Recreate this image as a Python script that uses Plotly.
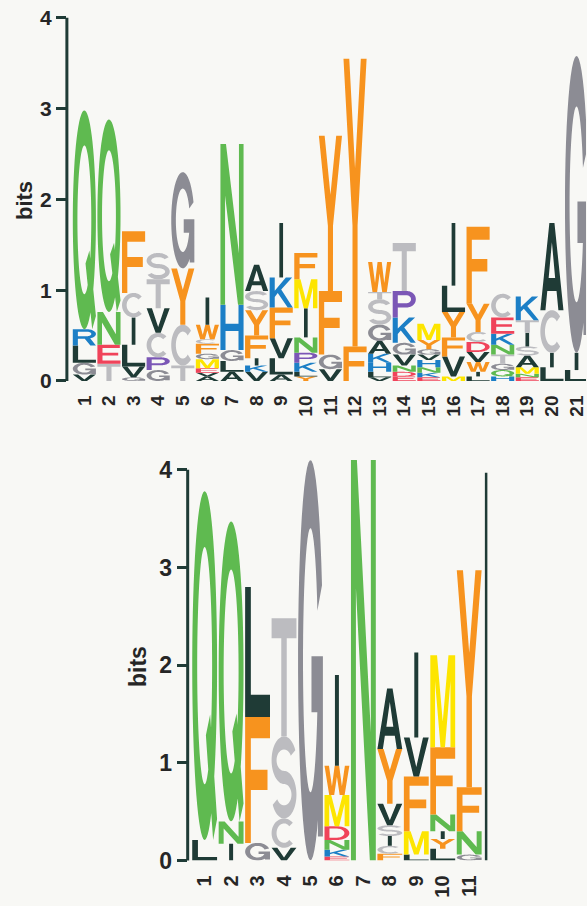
import numpy as np
import plotly.graph_objects as go

# ---------------- data ----------------
top_positions = list(range(1, 22))
top_letters = [
    "VGLRQ", "TENQ", "GVLICF", "GPCVTS", "TCYG", "AVEMGFCWI", "ALGHN",
    "VKIFYSA", "ALVFKI", "YLKPNIMF", "VGFY", "FY", "VLHKAGSTW", "EDNVGKPT",
    "EKNHVGYM", "MVFYLI", "LIWVDCYF", "HQGTNKEC", "ENMASITK", "LICA", "LIG",
]
top_heights = [
    [0.07, 0.13, 0.19, 0.18, 2.41],
    [0.19, 0.21, 0.36, 2.12],
    [0.04, 0.12, 0.24, 0.30, 0.27, 0.68],
    [0.12, 0.14, 0.27, 0.27, 0.32, 0.29],
    [0.17, 0.45, 0.62, 1.06],
    [0.05, 0.04, 0.05, 0.10, 0.06, 0.11, 0.05, 0.16, 0.30],
    [0.10, 0.12, 0.12, 0.50, 1.77],
    [0.10, 0.07, 0.08, 0.25, 0.28, 0.21, 0.29],
    [0.07, 0.18, 0.22, 0.34, 0.33, 0.60],
    [0.05, 0.05, 0.10, 0.11, 0.17, 0.32, 0.32, 0.29],
    [0.13, 0.16, 0.70, 1.71],
    [0.38, 3.17],
    [0.04, 0.06, 0.10, 0.10, 0.14, 0.18, 0.28, 0.08, 0.33],
    [0.05, 0.05, 0.07, 0.12, 0.13, 0.28, 0.29, 0.53],
    [0.04, 0.05, 0.06, 0.08, 0.06, 0.06, 0.10, 0.18],
    [0.05, 0.22, 0.21, 0.28, 0.29, 0.69],
    [0.05, 0.05, 0.11, 0.11, 0.11, 0.11, 0.31, 0.85],
    [0.05, 0.07, 0.07, 0.10, 0.11, 0.12, 0.18, 0.26],
    [0.04, 0.04, 0.07, 0.13, 0.10, 0.15, 0.14, 0.26],
    [0.15, 0.16, 0.47, 0.96],
    [0.12, 0.19, 3.27],
]

bottom_positions = list(range(1, 12))
bottom_letters = ["LQ", "INQ", "GFL", "VCST", "G", "EKNDMWI", "N",
                  "FCISVYA", "LMFVI", "LYINFM", "GNFY"]
bottom_heights = [
    [0.21, 3.57],
    [0.17, 0.23, 3.07],
    [0.18, 1.29, 1.33],
    [0.13, 0.30, 0.84, 1.21],
    [4.10],
    [0.04, 0.07, 0.10, 0.14, 0.32, 0.30, 0.93],
    [4.10],
    [0.07, 0.08, 0.10, 0.11, 0.22, 0.56, 0.62],
    [0.06, 0.24, 0.56, 0.40, 0.87],
    [0.12, 0.10, 0.08, 0.17, 0.69, 0.94],
    [0.06, 0.24, 0.45, 2.22],
]
bottom_rule_x = 11.64     # tall thin line at the right of the lower logo
bottom_rule_top = 3.97

y_ticks = [0, 1, 2, 3, 4]

# ---------------- style ----------------
DARK = "#1f3b36"
COLORS = {}
for c in "QN":
    COLORS[c] = "#5fba50"
for c in "FYW":
    COLORS[c] = "#f7931e"
for c in "AVLI":
    COLORS[c] = DARK
for c in "KRH":
    COLORS[c] = "#1c7fc6"
for c in "DE":
    COLORS[c] = "#f0435a"
for c in "STC":
    COLORS[c] = "#bcbcc0"
COLORS["G"] = "#8c8c94"
COLORS["P"] = "#7b57b6"
COLORS["M"] = "#fde500"

BG = "#f8f8f5"
FONT = "Liberation Sans, Arial, sans-serif"
TXT = "#262626"


def arc(cx, cy, rx, ry, a0, a1, n=48):
    t = np.radians(np.linspace(a0, a1, n))
    return list(zip(cx + rx * np.cos(t), cy + ry * np.sin(t)))


def ring(cx, cy, Rx, Ry, rx, ry, a0, a1, n=48):
    return arc(cx, cy, Rx, Ry, a0, a1, n) + arc(cx, cy, rx, ry, a1, a0, n)


def glyph(ch):
    """Return list of (points, is_hole) in a unit box."""
    if ch == "A":
        return [([(0, 0), (0.22, 0), (0.3, 0.22), (0.7, 0.22), (0.78, 0), (1, 0),
                  (0.61, 1), (0.39, 1)], False),
                ([(0.36, 0.37), (0.64, 0.37), (0.5, 0.78)], True)]
    if ch == "C":
        return [(ring(0.5, 0.5, 0.5, 0.5, 0.3, 0.33, 45, 315), False)]
    if ch == "D":
        return [([(0, 0), (0.5, 0)] + arc(0.5, 0.5, 0.5, 0.5, -90, 90) + [(0, 1)], False),
                ([(0.2, 0.17), (0.5, 0.17)] + arc(0.5, 0.5, 0.3, 0.33, -90, 90) + [(0.2, 0.83)], True)]
    if ch == "E":
        return [([(0, 0), (1, 0), (1, 0.17), (0.22, 0.17), (0.22, 0.43), (0.9, 0.43),
                  (0.9, 0.58), (0.22, 0.58), (0.22, 0.83), (0.97, 0.83), (0.97, 1), (0, 1)], False)]
    if ch == "F":
        return [([(0, 0), (0.23, 0), (0.23, 0.42), (0.9, 0.42), (0.9, 0.58), (0.23, 0.58),
                  (0.23, 0.83), (1, 0.83), (1, 1), (0, 1)], False)]
    if ch == "G":
        return [(ring(0.5, 0.5, 0.5, 0.5, 0.3, 0.33, 22, 352), False),
                ([(0.54, 0.37), (1.0, 0.37), (1.0, 0.51), (0.54, 0.51)], False),
                ([(0.8, 0.06), (1.0, 0.06), (1.0, 0.51), (0.8, 0.51)], False)]
    if ch == "H":
        return [([(0, 0), (0.22, 0), (0.22, 0.42), (0.78, 0.42), (0.78, 0), (1, 0), (1, 1),
                  (0.78, 1), (0.78, 0.58), (0.22, 0.58), (0.22, 1), (0, 1)], False)]
    if ch == "I":
        return [([(0.42, 0), (0.58, 0), (0.58, 1), (0.42, 1)], False)]
    if ch == "K":
        return [([(0, 0), (0.22, 0), (0.22, 0.35), (0.35, 0.48), (0.78, 0), (1, 0),
                  (0.5, 0.6), (0.97, 1), (0.7, 1), (0.22, 0.56), (0.22, 1), (0, 1)], False)]
    if ch == "L":
        return [([(0, 0), (1, 0), (1, 0.17), (0.23, 0.17), (0.23, 1), (0, 1)], False)]
    if ch == "M":
        return [([(0, 0), (0.19, 0), (0.19, 0.72), (0.41, 0), (0.59, 0), (0.81, 0.72),
                  (0.81, 0), (1, 0), (1, 1), (0.73, 1), (0.5, 0.28), (0.27, 1), (0, 1)], False)]
    if ch == "N":
        return [([(0, 0), (0.2, 0), (0.2, 0.68), (0.76, 0), (1, 0), (1, 1), (0.8, 1),
                  (0.8, 0.32), (0.24, 1), (0, 1)], False)]
    if ch == "P":
        return [([(0, 0), (0.22, 0), (0.22, 0.38), (0.62, 0.38)] +
                 arc(0.62, 0.69, 0.38, 0.31, -90, 90) + [(0, 1)], False),
                ([(0.22, 0.54), (0.6, 0.54)] + arc(0.6, 0.69, 0.19, 0.15, -90, 90) +
                 [(0.22, 0.84)], True)]
    if ch == "Q":
        return [(arc(0.5, 0.5, 0.5, 0.5, 0, 360, 72), False),
                (arc(0.5, 0.5, 0.3, 0.34, 0, 360, 72), True),
                ([(0.55, 0.3), (0.72, 0.36), (1.0, 0.06), (0.84, 0.0)], False)]
    if ch == "R":
        return [([(0, 0), (0.22, 0), (0.22, 0.42), (0.6, 0.42)] +
                 arc(0.6, 0.71, 0.4, 0.29, -90, 90) + [(0, 1)], False),
                ([(0.22, 0.57), (0.6, 0.57)] + arc(0.6, 0.71, 0.2, 0.14, -90, 90) +
                 [(0.22, 0.85)], True),
                ([(0.5, 0.44), (0.75, 0.44), (1, 0), (0.76, 0)], False)]
    if ch == "S":
        return [(ring(0.5, 0.71, 0.5, 0.29, 0.3, 0.13, 25, 270), False),
                (ring(0.5, 0.29, 0.5, 0.29, 0.3, 0.13, 90, -155), False)]
    if ch == "T":
        return [([(0.39, 0), (0.61, 0), (0.61, 0.83), (1, 0.83), (1, 1), (0, 1),
                  (0, 0.83), (0.39, 0.83)], False)]
    if ch == "V":
        return [([(0, 1), (0.39, 0), (0.61, 0), (1, 1), (0.77, 1), (0.5, 0.24), (0.23, 1)], False)]
    if ch == "W":
        return [([(0, 1), (0.19, 0), (0.39, 0), (0.5, 0.62), (0.61, 0), (0.81, 0), (1, 1),
                  (0.82, 1), (0.7, 0.3), (0.59, 1), (0.41, 1), (0.3, 0.3), (0.18, 1)], False)]
    if ch == "Y":
        return [([(0.39, 0), (0.61, 0), (0.61, 0.42), (1, 1), (0.75, 1), (0.5, 0.62),
                  (0.25, 1), (0, 1), (0.39, 0.42)], False)]
    return [([(0, 0), (1, 0), (1, 1), (0, 1)], False)]


def signed_area(pts):
    a = 0.0
    for i in range(len(pts)):
        x1, y1 = pts[i]
        x2, y2 = pts[(i + 1) % len(pts)]
        a += x1 * y2 - x2 * y1
    return a / 2


def letter_path(ch, xc, y0, h, w=0.94):
    parts = []
    for pts, hole in glyph(ch):
        a = signed_area(pts)
        if (not hole and a < 0) or (hole and a > 0):
            pts = pts[::-1]
        coords = [(xc - w / 2 + gx * w, y0 + gy * h) for gx, gy in pts]
        s = "M" + " L".join(f"{x:.4f},{y:.4f}" for x, y in coords) + " Z"
        parts.append(s)
    return " ".join(parts)


def logo_shapes(positions, letters, heights, xref, yref):
    shapes = []
    for pos, lets, hs in zip(positions, letters, heights):
        base = 0.0
        for ch, h in zip(lets, hs):
            shapes.append(dict(type="path", path=letter_path(ch, pos, base, h),
                               xref=xref, yref=yref, fillcolor=COLORS[ch],
                               line=dict(width=0), fillrule="nonzero", layer="above"))
            base += h
    return shapes


# ---------------- layout geometry (pixels) ----------------
W, H = 587, 906
# top logo
t_axis_px, t_c1_px, t_step = 67, 84.5, 24.65
t_y0_px, t_ppb = 386.5, 92.1
t_ytop = 4.15
# bottom logo
b_axis_px, b_c1_px, b_step = 188, 205, 26.5
b_y0_px, b_ppb = 873, 99.1
b_ytop = 4.3
b_right_px = 505

t_xr = [1 - (t_c1_px - t_axis_px) / t_step, 1 + (W - t_c1_px) / t_step]
b_xr = [1 - (b_c1_px - b_axis_px) / b_step, 1 + (b_right_px - b_c1_px) / b_step]

t_dom_y = [(H - t_y0_px) / H, (H - (t_y0_px - t_ytop * t_ppb)) / H]
b_dom_y = [(H - b_y0_px) / H, (H - (b_y0_px - b_ytop * b_ppb)) / H]

fig = go.Figure()
fig.add_trace(go.Scatter(x=top_positions, y=[0] * len(top_positions), mode="markers",
                         marker=dict(opacity=0), hoverinfo="skip", showlegend=False,
                         xaxis="x", yaxis="y"))
fig.add_trace(go.Scatter(x=bottom_positions, y=[0] * len(bottom_positions), mode="markers",
                         marker=dict(opacity=0), hoverinfo="skip", showlegend=False,
                         xaxis="x2", yaxis="y2"))

shapes = logo_shapes(top_positions, top_letters, top_heights, "x", "y")
shapes += logo_shapes(bottom_positions, bottom_letters, bottom_heights, "x2", "y2")

# right-hand thin rule in the lower logo
shapes.append(dict(type="line", xref="x2", yref="y2", x0=bottom_rule_x, x1=bottom_rule_x,
                   y0=0, y1=bottom_rule_top, line=dict(color=DARK, width=2.5)))

# y axis spines drawn from 0 to 4 only
shapes.append(dict(type="line", xref="paper", yref="paper",
                   x0=t_axis_px / W, x1=t_axis_px / W,
                   y0=(H - t_y0_px) / H, y1=(H - (t_y0_px - 4 * t_ppb)) / H,
                   line=dict(color=DARK, width=3)))
shapes.append(dict(type="line", xref="paper", yref="paper",
                   x0=b_axis_px / W, x1=b_axis_px / W,
                   y0=(H - b_y0_px) / H, y1=(H - (b_y0_px - 4 * b_ppb)) / H,
                   line=dict(color=DARK, width=3)))


def y_axis(size):
    return dict(showgrid=False, zeroline=False, showline=False, ticks="outside",
                ticklen=10, tickwidth=2.5, tickcolor=DARK, tickvals=y_ticks,
                ticktext=[str(v) for v in y_ticks],
                tickfont=dict(family=FONT, size=size, color=TXT, weight="bold"),
                fixedrange=True)


def x_axis(size, positions):
    return dict(showgrid=False, zeroline=False, showline=False, ticks="outside",
                ticklen=6, tickcolor="rgba(0,0,0,0)", tickangle=-90,
                tickvals=positions, ticktext=[str(p) for p in positions],
                ticklabeloverflow="allow",
                tickfont=dict(family=FONT, size=size, color=TXT, weight="bold"),
                fixedrange=True)


fig.update_layout(
    width=W, height=H,
    margin=dict(l=0, r=0, t=0, b=0),
    paper_bgcolor=BG, plot_bgcolor=BG,
    showlegend=False,
    xaxis=dict(domain=[t_axis_px / W, 1], range=t_xr, anchor="y", **x_axis(19, top_positions)),
    yaxis=dict(domain=t_dom_y, range=[0, t_ytop], anchor="x", **y_axis(21)),
    xaxis2=dict(domain=[b_axis_px / W, b_right_px / W], range=b_xr, anchor="y2",
                **x_axis(20, bottom_positions)),
    yaxis2=dict(domain=b_dom_y, range=[0, b_ytop], anchor="x2", **y_axis(23)),
    shapes=shapes,
    annotations=[
        dict(text="bits", xref="paper", yref="paper", x=24 / W, y=(H - 203) / H,
             textangle=-90, showarrow=False, xanchor="center", yanchor="middle",
             font=dict(family=FONT, size=22, color=TXT, weight="bold")),
        dict(text="bits", xref="paper", yref="paper", x=139 / W, y=(H - 676) / H,
             textangle=-90, showarrow=False, xanchor="center", yanchor="middle",
             font=dict(family=FONT, size=23, color=TXT, weight="bold")),
    ],
)

fig.write_html("out.html")
